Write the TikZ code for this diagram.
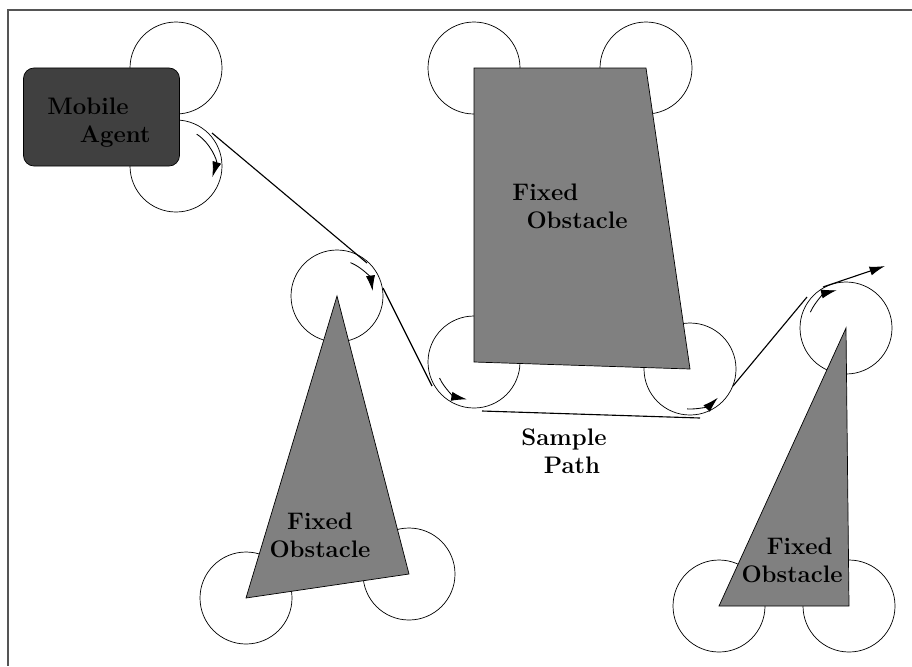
\documentclass[tikz,border=0pt]{standalone}
\usepackage{tikz}
\usepackage{xcolor}
\usetikzlibrary{arrows.meta, calc}
\definecolor{agnt}{RGB}{ 64, 64, 64}
\definecolor{obst}{RGB}{128,128,128}
\definecolor{frm} {RGB}{ 85, 85, 85}
\tikzset{
  % Frame lines
  FR/.style={draw=frm,line width=1.3pt},
  % Clearance circle round a corner
  CC/.style={draw=black,line width=0.5pt},
  % Grey obstacle
  OB/.style={draw=black,fill=obst,line width=0.5pt},
  % Dark agent box
  AG/.style={rectangle,rounded corners=7.5pt,draw=black,fill=agnt,
             minimum width=3.9cm,minimum height=2.45cm,inner sep=0pt,
             line width=0.5pt},
  % Bold label
  LB/.style={font=\fontsize{17}{20}\selectfont\bfseries,align=#1,
             inner sep=0pt,text=black},
  LB/.default=center,
  % Path pieces
  PLine/.style={line width=0.8pt},
  PArr/.style ={-{Latex[length=11pt,width=6.5pt]},line width=0.6pt},
  PEnd/.style ={-{Latex[length=11pt,width=6.5pt]},line width=0.8pt},
}
\begin{document}
\begin{tikzpicture}[x=0.025cm,y=-0.025cm]
      \useasboundingbox (0,0) rectangle (912,666);
      \coordinate (fTR) at (912,10);
      \coordinate (fTL) at (8,10);
      \coordinate (fBL) at (8,666);
      \draw[FR] (fTR)--(fTL)--(fBL);
      % corners
      \coordinate (ag1) at (176,68);
      \coordinate (ag2) at (176,166);
      \coordinate (q1) at (474,68);
      \coordinate (q2) at (646,68);
      \coordinate (q3) at (690,369);
      \coordinate (q4) at (474,362);
      \coordinate (ta1) at (337,296);
      \coordinate (ta2) at (246,598);
      \coordinate (ta3) at (409,574);
      \coordinate (tb1) at (846,328);
      \coordinate (tb2) at (719,606);
      \coordinate (tb3) at (849,606);
      \foreach \c in {ag1,ag2,q1,q2,q3,q4,ta1,ta2,ta3,tb1,tb2,tb3}
        \draw[CC] (\c) circle[radius=46];
      \node[AG] at (101.5,117) (agent) {};
      \draw[OB] (q1)--(q2)--(q3)--(q4)--cycle;
      \draw[OB] (ta1)--(ta2)--(ta3)--cycle;
      \draw[OB] (tb1)--(tb2)--(tb3)--cycle;
      \node[LB=left] at (99,123) (agtxt)
            {Mobile\\\hspace*{23pt}Agent};
      \node[LB=left] at (570,206) (qtxt)
            {Fixed\\\hspace*{10pt}Obstacle};
      \node[LB] at (320,535) (tatxt)
            {Fixed\\Obstacle};
      \node[LB=left] at (792,560) (tbtxt)
            {\hspace*{18pt}Fixed\\Obstacle};
      \node[LB=left] at (564,451) (ptxt)
            {Sample\\\hspace*{16pt}Path};
      % sample path
      \coordinate (p1) at (212,133);
      \coordinate (p2) at (367,263);
      \coordinate (p3) at (383,288);
      \coordinate (p4) at (432,386);
      \coordinate (p5) at (482,411);
      \coordinate (p6) at (700,418);
      \coordinate (p7) at (733,386);
      \coordinate (p8) at (807,297);
      \coordinate (p9) at (823,287);
      \coordinate (p10) at (885,266);
      \draw[PArr] ($(ag2)+(-57:38)$) arc[start angle=-57,end angle=17,radius=38];
      \draw[PLine] (p1)--(p2);
      \draw[PArr] ($(ta1)+(-68:36)$) arc[start angle=-68,end angle=-8,radius=36];
      \draw[PLine] (p3)--(p4);
      \draw[PArr] ($(q4)+(155:38)$) arc[start angle=155,end angle=101,radius=38];
      \draw[PLine] (p5)--(p6);
      \draw[PArr] ($(q3)+(94:40)$) arc[start angle=94,end angle=46,radius=40];
      \draw[PLine] (p7)--(p8);
      \draw[PArr] ($(tb1)+(204:39)$) arc[start angle=204,end angle=256,radius=39];
      \draw[PEnd] (p9)--(p10);
    \end{tikzpicture}
\end{document}
